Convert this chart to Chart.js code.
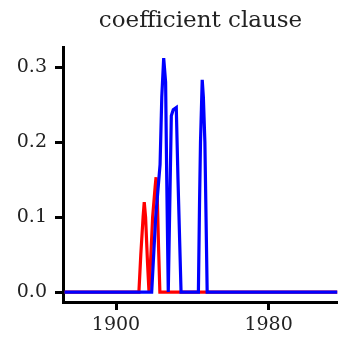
<!DOCTYPE html>
<html>
<head>
<meta charset="utf-8">
<script src="https://cdn.jsdelivr.net/npm/chart.js@4"></script>
<style>
  html, body { margin: 0; padding: 0; background: #fff; }
  #wrap { width: 338px; height: 343px; }
</style>
</head>
<body>
<div id="wrap"><canvas id="chart"></canvas></div>
<script>
const TITLE = "coefficient clause";

// values (year, value)
const redYears = [1873, 1912, 1913, 1914.2, 1914.8, 1915.5, 1916.5, 1917.3, 1917.6, 1918.3, 1919.2, 1920.5, 1921, 1921.6, 1922.3, 1923, 2016];
const redValues = [0, 0, 0.05, 0.1, 0.12, 0.1, 0.04, 0, 0, 0.05, 0.1, 0.14, 0.153, 0.13, 0.06, 0, 0];

const blueYears = [1873, 1918.7, 1920.8, 1923.1, 1924, 1925, 1926, 1926.6, 1927.4, 1927.6, 1929, 1930, 1931.6, 1932.5, 1934.1, 1943.2, 1943.8, 1944.3, 1945.2, 1945.8, 1946.6, 1947.2, 1947.8, 2016];
const blueValues = [0, 0, 0.1, 0.17, 0.26, 0.312, 0.28, 0.15, 0, 0, 0.235, 0.243, 0.246, 0.15, 0, 0, 0.12, 0.2, 0.283, 0.26, 0.2, 0.1, 0, 0];

const xTicks = [1900, 1980];
const yTicks = [0, 0.1, 0.2, 0.3];

const toPoints = (xs, ys) => xs.map((x, i) => ({ x, y: ys[i] }));

const axisFont = { family: "DejaVu Serif", size: 19 };

new Chart(document.getElementById("chart"), {
  type: "line",
  data: {
    datasets: [
      {
        label: "blue",
        data: toPoints(blueYears, blueValues),
        borderColor: "#0000ff",
        borderWidth: 3.2,
        pointRadius: 0,
        tension: 0,
        order: 0
      },
      {
        label: "red",
        data: toPoints(redYears, redValues),
        borderColor: "#ff0000",
        borderWidth: 3.2,
        pointRadius: 0,
        tension: 0,
        order: 1
      }
    ]
  },
  options: {
    responsive: true,
    maintainAspectRatio: false,
    animation: false,
    layout: { padding: 0 },
    plugins: {
      legend: { display: false },
      tooltip: { enabled: false },
      title: {
        display: true,
        text: TITLE,
        fullSize: false,
        color: "#222",
        font: { family: "DejaVu Serif", size: 23, weight: "normal" },
        padding: { top: 7, bottom: 12.4 }
      }
    },
    scales: {
      x: {
        type: "linear",
        min: 1872.2,
        max: 2016.4,
        afterBuildTicks: (scale) => { scale.ticks = xTicks.map((v) => ({ value: v })); },
        afterFit: (scale) => { scale.height = 41; },
        grid: { drawOnChartArea: false, drawTicks: true, tickLength: 8, tickWidth: 3, tickColor: "#000" },
        border: { display: true, color: "#000", width: 3 },
        ticks: { color: "#222", font: axisFont, padding: 4, maxRotation: 0, callback: (v) => String(v) }
      },
      y: {
        min: -0.0133,
        max: 0.3267,
        afterBuildTicks: (scale) => { scale.ticks = yTicks.map((v) => ({ value: v })); },
        afterFit: (scale) => { scale.width = 63; },
        grid: { drawOnChartArea: false, drawTicks: true, tickLength: 8, tickWidth: 3, tickColor: "#000" },
        border: { display: true, color: "#000", width: 3 },
        ticks: { color: "#222", font: axisFont, padding: 8, callback: (v) => v.toFixed(1) }
      }
    }
  }
});
</script>
</body>
</html>
